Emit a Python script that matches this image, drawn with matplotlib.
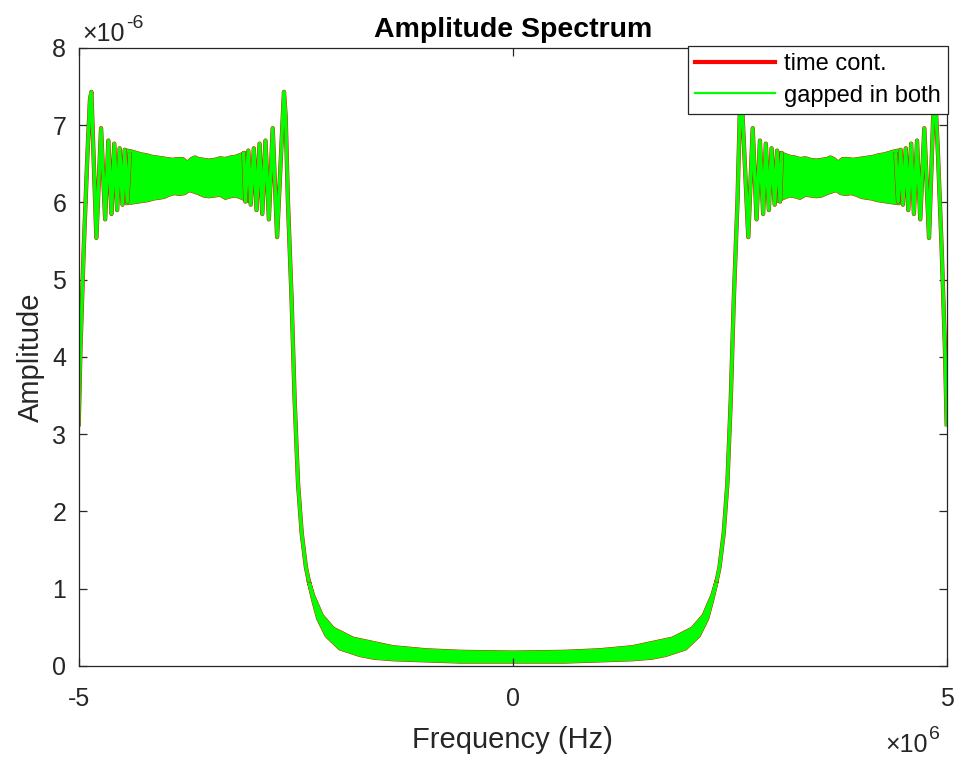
import numpy as np
import matplotlib
matplotlib.use("Agg")
import matplotlib.pyplot as plt
from matplotlib.lines import Line2D

plt.rcParams['font.family'] = ['Liberation Sans', 'DejaVu Sans']
plt.rcParams['axes.unicode_minus'] = False

# Spectrum values for the positive-frequency half (MHz, amplitude in 1e-6);
# the negative half is the mirror image (real-valued signal).

# Low-frequency floor: upper and lower edges of the dense ripple band
floor_up_f = [0.0, 0.6, 1.0, 1.38, 1.84, 2.07, 2.20, 2.30, 2.35]
floor_up_a = [0.170, 0.180, 0.200, 0.240, 0.350, 0.480, 0.650, 0.910, 1.10]
floor_lo_f = [0.0, 0.6, 1.0, 1.38, 1.60, 1.76, 1.99, 2.143, 2.24, 2.30, 2.35]
floor_lo_a = [0.055, 0.055, 0.070, 0.085, 0.105, 0.140, 0.225, 0.390, 0.610, 0.860, 1.10]

# Passband lower edge: steep rise and resolved ripples
edge_in_f = [2.35, 2.383, 2.431, 2.473, 2.512, 2.547, 2.590, 2.615, 2.635,
             2.714, 2.765, 2.809, 2.848, 2.885, 2.916, 2.951, 2.982, 3.018,
             3.046, 3.080, 3.100]
edge_in_a = [1.10, 1.28, 1.72, 2.36, 3.44, 4.74, 6.03, 7.10, 7.43,
             5.55, 6.96, 5.78, 6.80, 5.85, 6.76, 5.90, 6.70, 5.97,
             6.67, 6.01, 6.64]

# Passband upper edge: resolved ripples and roll-off at Nyquist
edge_out_f = [4.410, 4.440, 4.470, 4.495, 4.528, 4.557, 4.590, 4.622, 4.658,
              4.695, 4.742, 4.796, 4.854, 4.870, 4.900, 4.942, 4.980, 5.000]
edge_out_a = [6.65, 6.01, 6.68, 5.97, 6.70, 5.90, 6.76, 5.85, 6.80,
              5.78, 6.96, 5.54, 7.43, 7.33, 6.60, 5.39, 4.09, 3.10]

# Passband centre: upper and lower edges of the dense ripple band
band_up_f = [3.05, 3.12, 3.19, 3.25, 3.31, 3.37, 3.43, 3.50, 3.56, 3.62,
             3.66, 3.70, 3.75, 3.80, 3.86, 3.92, 3.98, 4.04, 4.10, 4.16,
             4.22, 4.28, 4.34, 4.40, 4.45]
band_up_a = [6.64, 6.62, 6.59, 6.58, 6.56, 6.57, 6.55, 6.54, 6.55, 6.56,
             6.58, 6.56, 6.51, 6.56, 6.56, 6.55, 6.56, 6.57, 6.58, 6.59,
             6.61, 6.62, 6.64, 6.66, 6.67]
band_lo_f = [3.05, 3.12, 3.19, 3.25, 3.31, 3.37, 3.43, 3.50, 3.56, 3.62,
             3.67, 3.73, 3.78, 3.84, 3.90, 3.96, 4.02, 4.08, 4.14, 4.20,
             4.26, 4.32, 4.38, 4.45]
band_lo_a = [6.02, 6.06, 6.09, 6.08, 6.06, 6.10, 6.09, 6.08, 6.09, 6.12,
             6.14, 6.16, 6.12, 6.11, 6.12, 6.10, 6.07, 6.06, 6.05, 6.03,
             6.02, 6.01, 6.00, 5.99]

series_labels = ['time cont.', 'gapped in both']
series_colors = ['#ff0000', '#00ff00']
series_widths = [3.1, 2.5]
legend_widths = [3.0, 1.6]

x_ticks = [-5, 0, 5]
y_ticks = [0, 1, 2, 3, 4, 5, 6, 7, 8]


def arr(v):
    return np.asarray(v, dtype=float)


fig = plt.figure(figsize=(9.56, 7.6), dpi=100)
ax = fig.add_axes([0.0823, 0.124, 0.9080, 0.813])

for color, lw in zip(series_colors, series_widths):
    # dense floor band (both signs of frequency)
    fu, au = arr(floor_up_f), arr(floor_up_a)
    fl, al = arr(floor_lo_f), arr(floor_lo_a)
    top_x = np.r_[-fu[::-1], fu]
    top_y = np.r_[au[::-1], au]
    bot_x = np.r_[-fl[::-1], fl]
    bot_y = np.r_[al[::-1], al]
    ax.fill(np.r_[top_x, bot_x[::-1]], np.r_[top_y, bot_y[::-1]],
            facecolor=color, edgecolor=color, lw=lw, joinstyle='round')
    for sgn in (1, -1):
        bu_f, bu_a = arr(band_up_f) * sgn, arr(band_up_a)
        bl_f, bl_a = arr(band_lo_f) * sgn, arr(band_lo_a)
        ax.fill(np.r_[bu_f, bl_f[::-1]], np.r_[bu_a, bl_a[::-1]],
                facecolor=color, edgecolor=color, lw=lw, joinstyle='round')
        ax.plot(arr(edge_in_f) * sgn, edge_in_a, color=color, lw=lw,
                solid_joinstyle='round', solid_capstyle='round')
        ax.plot(arr(edge_out_f) * sgn, edge_out_a, color=color, lw=lw,
                solid_joinstyle='round', solid_capstyle='butt')

ax.set_xlim(-5, 5)
ax.set_ylim(0, 8)
ax.set_xticks(x_ticks)
ax.set_yticks(y_ticks)
ax.tick_params(direction='in', length=6, width=0.9, labelsize=18,
               top=True, right=True, colors='#262626')
ax.tick_params(axis='x', pad=15)
ax.tick_params(axis='y', pad=9)
for s in ax.spines.values():
    s.set_color('#262626')
    s.set_linewidth(0.9)

ax.set_title('Amplitude Spectrum', fontsize=20.5, fontweight='bold', pad=8)
ax.set_xlabel('Frequency (Hz)', fontsize=21, color='#262626', labelpad=11)
ax.set_ylabel('Amplitude', fontsize=21, color='#262626', labelpad=5)

# axis multipliers
fig.text(82 / 956, 1 - 41 / 760, '\u00d710', fontsize=18,
         color='#262626', ha='left', va='baseline')
fig.text(126 / 956, 1 - 28 / 760, '-6', fontsize=14,
         color='#262626', ha='left', va='baseline')
fig.text(885 / 956, 1 - 752 / 760, '\u00d710', fontsize=18,
         color='#262626', ha='left', va='baseline')
fig.text(929 / 956, 1 - 739 / 760, '6', fontsize=14,
         color='#262626', ha='left', va='baseline')

handles = [Line2D([], [], color=c, lw=w)
           for c, w in zip(series_colors, legend_widths)]
leg = ax.legend(handles, series_labels, loc='upper right',
                bbox_to_anchor=(948 / 956, 1 - 45.7 / 760),
                bbox_transform=fig.transFigure, fontsize=17,
                handlelength=3.4, handletextpad=0.35, labelspacing=0.4,
                borderpad=0.32, borderaxespad=0, fancybox=False,
                framealpha=1, edgecolor='#262626')
leg.get_frame().set_linewidth(0.9)

fig.savefig('out.png', dpi=100)
